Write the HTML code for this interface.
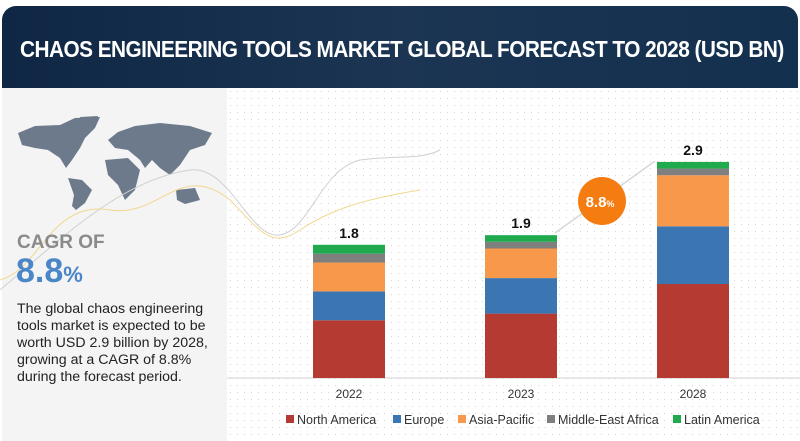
<!DOCTYPE html>
<html><head><meta charset="utf-8"><style>
body{margin:0;width:800px;height:441px;overflow:hidden;background:#fff;font-family:"Liberation Sans",sans-serif}
#hdr{position:absolute;left:2px;top:6px;width:796px;height:82px;background:linear-gradient(90deg,#0f2744,#1b3553 50%,#14304f);border-radius:14px 14px 0 0}
#hdr h1{position:absolute;left:18px;top:30px;margin:0;color:#fff;font-size:23px;font-weight:bold;letter-spacing:-0.6px;transform:scaleX(0.905);transform-origin:left;white-space:nowrap}
#left{position:absolute;left:2px;top:88px;width:225px;height:353px;background:#f4f4f4}
#right{position:absolute;left:227px;top:88px;width:573px;height:353px;background-image:radial-gradient(#d8d8d8 0.7px,transparent 0.8px);background-size:7px 7px}
.cagr{position:absolute;left:17px;top:232px;color:#8a8a8a;font-size:19px;font-weight:bold}
.big{position:absolute;left:16px;top:252px;color:#4a86c8;font-size:34px;font-weight:bold}
.big span{font-size:22px}
.desc{position:absolute;left:17px;top:301px;width:210px;font-size:14.2px;line-height:17px;color:#222}
</style></head><body>
<div id="hdr"><h1>CHAOS ENGINEERING TOOLS MARKET GLOBAL FORECAST TO 2028 (USD BN)</h1></div>
<div id="left"></div>
<div id="right"></div>
<svg style="position:absolute;left:0;top:0" width="800" height="441">
<g fill="#6c7a8c">
<path d="M18,133 L35,126 L60,125 L75,118 L100,117 L95,128 L85,138 L80,148 L72,160 L66,168 L60,158 L48,150 L35,148 L22,145Z"/>
<path d="M80,117 L98,116 L92,128 L84,130Z"/>
<path d="M68,178 L82,180 L92,190 L85,203 L76,210 L72,206 L74,195Z"/>
<path d="M108,140 L118,132 L135,126 L160,123 L190,126 L212,133 L205,145 L190,150 L180,165 L170,175 L160,168 L152,160 L145,168 L140,160 L128,150 L115,148Z"/>
<path d="M105,160 L128,158 L140,170 L135,190 L125,200 L118,185 L108,175Z"/>
<path d="M176,190 L195,188 L200,200 L185,204 L177,200Z"/>
</g>
<path d="M0,280 C40,270 50,200 110,210 C160,218 180,160 230,200 C260,230 270,250 300,230 C330,210 360,200 420,190" stroke="#f0d890" fill="none" stroke-width="1"/>
<path d="M0,290 C60,240 120,180 190,170 C230,165 250,240 280,235 C310,230 320,170 360,160 C400,155 420,160 440,150" stroke="#d0d0d0" fill="none" stroke-width="1"/>
<line x1="227" y1="378" x2="800" y2="378" stroke="#d0d0d0"/>
<g id="bars"></g>
<line x1="555" y1="233" x2="655" y2="161" stroke="#d8d8d8" stroke-width="1.5"/>
<circle cx="602" cy="201" r="24" fill="#f57c10"/>
<text x="600" y="207" fill="#fff" font-size="15" font-weight="bold" text-anchor="middle">8.8<tspan font-size="9">%</tspan></text>
<g id="legend"></g>
</svg>
<div class="cagr">CAGR OF</div>
<div class="big">8.8<span>%</span></div>
<div class="desc">The global chaos engineering tools market is expected to be worth USD 2.9 billion by 2028, growing at a CAGR of 8.8% during the forecast period.</div>
<script>
const years=["2022","2023","2028"];
const totals=["1.8","1.9","2.9"];
const regions=["North America","Europe","Asia-Pacific","Middle-East Africa","Latin America"];
const northAmerica=[0.78,0.87,1.27];
const europe=[0.39,0.48,0.78];
const asiaPacific=[0.39,0.40,0.69];
const middleEastAfrica=[0.12,0.09,0.09];
const latinAmerica=[0.12,0.09,0.09];
const series=[northAmerica,europe,asiaPacific,middleEastAfrica,latinAmerica];
const colors=["#b53a32","#3b76b2","#f7984a","#7f7f7f","#1faa4e"];
const ns="http://www.w3.org/2000/svg";
const base=378,scale=74,bw=72;
function xc(i){return 349+i*172;}
function yv(v){return v*scale;}
const g=document.getElementById("bars");
years.forEach((yr,i)=>{
 let y=base;
 series.forEach((s,k)=>{
  const h=yv(s[i]);y-=h;
  const r=document.createElementNS(ns,"rect");
  r.setAttribute("x",xc(i)-bw/2);r.setAttribute("y",y);r.setAttribute("width",bw);r.setAttribute("height",h);r.setAttribute("fill",colors[k]);
  
  
  g.appendChild(r);
 });
 const t=document.createElementNS(ns,"text");
 t.setAttribute("x",xc(i));t.setAttribute("y",y-7);t.setAttribute("text-anchor","middle");t.setAttribute("font-size","14");t.setAttribute("font-weight","bold");t.setAttribute("fill","#111");
 t.textContent=totals[i];
 
 
 g.appendChild(t);
 const xl=document.createElementNS(ns,"text");
 xl.setAttribute("x",xc(i));xl.setAttribute("y",398);xl.setAttribute("text-anchor","middle");xl.setAttribute("font-size","12");xl.setAttribute("fill","#333");
 xl.textContent=yr;
 
 
 g.appendChild(xl);
});
const lg=document.getElementById("legend");
const lx=[286,393,458,547,673];
regions.forEach((r,k)=>{
 const s=document.createElementNS(ns,"rect");
 s.setAttribute("x",lx[k]);s.setAttribute("y",415);s.setAttribute("width",8);s.setAttribute("height",8);s.setAttribute("fill",colors[k]);
 
 
 lg.appendChild(s);
 const t=document.createElementNS(ns,"text");
 t.setAttribute("x",lx[k]+11);t.setAttribute("y",424);t.setAttribute("font-size","12.5");t.setAttribute("fill","#333");
 t.textContent=r;
 
 
 lg.appendChild(t);
});
</script>
</body></html>
